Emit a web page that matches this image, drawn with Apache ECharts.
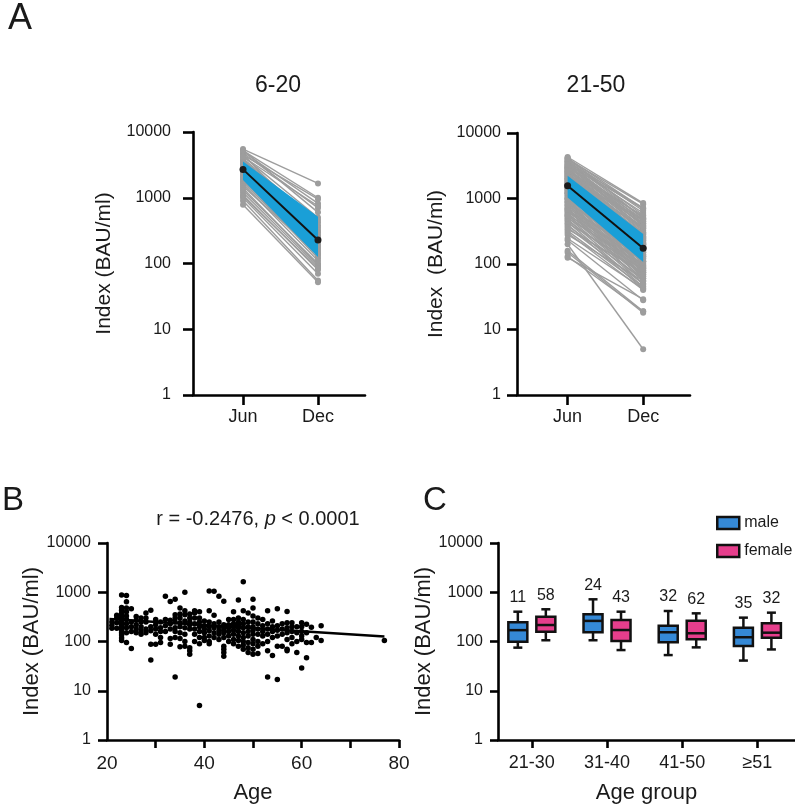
<!DOCTYPE html>
<html><head><meta charset="utf-8">
<script src="https://cdn.jsdelivr.net/npm/echarts@6/dist/echarts.min.js"></script>
<style>html,body{margin:0;padding:0;background:#fff}#c{width:795px;height:811px}</style>
</head><body><div id="c"></div>
<script>
// ---------- DATA ----------
const timeCats = ['Jun', 'Dec'];
const yTicks = [1, 10, 100, 1000, 10000];

// Panel A, 6-20 : [Jun, Dec] per subject
const young = [
 [5500,1650],[5200,1000],[5000,820],[4800,700],[4500,950],[4300,500],[4000,420],[3800,380],
 [3600,460],[3400,300],[3200,350],[3000,270],[2900,230],[2800,320],[2600,200],[2500,260],
 [2400,180],[2300,240],[2200,150],[2100,200],[2000,170],[1900,120],[1800,160],[1700,130],
 [1600,110],[1500,140],[1400,95],[1300,100],[1200,90],[1100,80],[1050,85],[1000,70],
 [900,55],[780,52],[4600,300],[3900,250],[3300,190],[2700,140],[5300,600],[4200,750]
];
const youngMean = [2700, 228];
const youngBandLow = [1870, 126];
const youngBandHigh = [3550, 515];

// Panel A, 21-50
const adult = [
 [4300,850],[4100,700],[4000,820],[3900,650],[3800,560],[3700,500],[3600,720],[3500,450],
 [3400,600],[3300,420],[3200,380],[3150,520],[3100,350],[3000,480],[2900,330],[2850,400],
 [2800,300],[2700,450],[2650,280],[2600,360],[2500,260],[2450,320],[2400,240],[2350,420],
 [2300,230],[2250,290],[2200,210],[2150,350],[2100,200],[2050,260],[2000,190],[1950,300],
 [1900,180],[1850,230],[1800,170],[1750,280],[1700,160],[1650,210],[1600,150],[1550,250],
 [1500,140],[1450,190],[1400,135],[1350,220],[1300,125],[1250,170],[1200,120],[1150,200],
 [1100,110],[1050,150],[1000,105],[980,180],[950,95],[900,130],[870,90],[850,160],
 [800,85],[780,120],[750,80],[720,140],[700,75],[680,100],[650,70],[620,110],
 [600,65],[580,90],[560,60],[540,80],[520,55],[500,95],[480,50],[460,70],
 [440,45],[420,85],[400,42],[380,60],[360,50],[340,75],[320,45],[300,40],
 [280,55],[245,42],[230,28],[160,19],[150,18],[130,19],[125,29],[200,5],
 [3000,250],[2500,180],[2000,130],[1800,110],[1500,90],[1200,75],[1000,60],[4200,500],
 [3600,380],[2900,210],[2200,150],[1700,100],[1300,85],[1100,65],[900,55],[700,48],
 [3300,700],[2600,550],[2000,480],[1600,380],[1400,300],[1200,260],[1000,240],[800,200],
 [650,170],[550,130]
];
const adultMean = [1563, 174];
const adultBandLow = [1040, 107];
const adultBandHigh = [2220, 288];

// Panel B : [age, values]
const scatterByAge = [
 [21,[250,185,215]],
 [22,[340,185,240,300]],
 [23,[880,490,430,380,340,300,270,240,215,190,170,150,135,118,105]],
 [24,[860,640,480,400,330,280,230,190,150,95]],
 [25,[460,250,200,160,72]],
 [26,[320,270,220,180,150]],
 [27,[300,250,200,165,140]],
 [28,[380,300,250,180,150]],
 [29,[430,200,165,88,42]],
 [30,[280,220,180,140,88]],
 [31,[250,190,160,120,95]],
 [32,[830,280,210,160]],
 [33,[650,270,230,180,115,88]],
 [34,[720,350,300,250,190,160,120,19]],
 [35,[480,360,300,240,200,150,115,78]],
 [36,[1000,420,350,260,190,140,100,80]],
 [37,[360,300,250,220,180,75,65,55]],
 [38,[420,380,300,230,180,140,100]],
 [39,[400,300,250,200,160,120,90,5]],
 [40,[260,210,180,150,120,105]],
 [41,[1060,420,250,200,165,130,100,90]],
 [42,[1050,340,230,190,150,120]],
 [43,[830,250,200,165,140,110]],
 [44,[660,220,190,170,150,120,80,70,60,50]],
 [45,[280,220,190,160,130,100]],
 [46,[400,280,230,200,170,140,110,90]],
 [47,[700,300,250,220,190,160,130,105,80]],
 [48,[1640,420,280,230,190,150,120,100,85,70]],
 [49,[380,250,200,160,130,95,75,60]],
 [50,[720,480,330,250,200,170,140,110,90,70,55]],
 [51,[300,230,180,140,100,80,57]],
 [52,[280,210,160,130,90]],
 [53,[420,230,180,140,100,65,19]],
 [54,[260,200,160,120,52]],
 [55,[460,210,170,130,80,17]],
 [56,[230,180,140,80]],
 [57,[405,240,190,150,110,70,65]],
 [58,[240,200,160,120,90]],
 [59,[200,150,100,60]],
 [60,[240,200,160,130,110,29]],
 [61,[225,150,95,47]],
 [62,[195,95]],
 [63,[120]],
 [64,[210,105]],
 [77,[105]]
];
const regAge = [20.5, 77];
const regIndex = [286, 127];
const ageTicks = [30, 40, 50, 60, 70, 80];

// Panel C : [low, q1, median, q3, high]
const ageGroups = ['21-30', '31-40', '41-50', '≥51'];
const maleBox = [[75,99,170,245,403],[106,154,262,357,719],[53,96,154,209,416],[41,81,122,191,305]];
const femaleBox = [[106,158,216,319,451],[67,102,171,273,403],[76,111,147,265,373],[69,119,151,234,385]];
const maleN = [11, 24, 32, 35];
const femaleN = [58, 43, 62, 32];

// ---------- STYLE ----------
const FF = 'Liberation Sans, Arial, sans-serif';
const TXT = '#1a1a1a';
const GREY = '#9d9d9d';
const BLUE_BAND = '#1a9fd7';
const MALE = '#3589d6';
const FEMALE = '#e63e8c';

function logAxis(grid, name, nameSize, nameGap, margin, tickLen) {
  return {
    type: 'log', logBase: 10, min: 1, max: 10000, gridIndex: grid,
    name: name, nameLocation: 'middle', nameGap: nameGap,
    nameTextStyle: {fontFamily: FF, fontSize: nameSize, color: TXT},
    axisLine: {show: true, onZero: false, lineStyle: {color: '#000', width: 2.6}},
    axisTick: {show: true, length: tickLen, lineStyle: {color: '#000', width: 2.6}},
    axisLabel: {fontFamily: FF, fontSize: 16, color: TXT, margin: margin,
      formatter: v => String(Math.round(v))},
    splitLine: {show: false}, minorTick: {show: false}
  };
}
function timeAxis(grid, min, max) {
  return {
    type: 'value', gridIndex: grid, min: min, max: max,
    axisLine: {show: true, onZero: false, lineStyle: {color: '#000', width: 2.6}},
    axisTick: {show: true, length: 10, customValues: [0, 1], lineStyle: {color: '#000', width: 2.6}},
    axisLabel: {fontFamily: FF, fontSize: 18, color: TXT, margin: 13, customValues: [0, 1],
      formatter: v => timeCats[Math.round(v)]},
    splitLine: {show: false}
  };
}

function subjectSeries(data, xi) {
  return {
    type: 'custom', xAxisIndex: xi, yAxisIndex: xi, data: data, silent: true, z: 2,
    renderItem: (params, api) => {
      const p0 = api.coord([0, api.value(0)]);
      const p1 = api.coord([1, api.value(1)]);
      return {type: 'group', children: [
        {type: 'line', shape: {x1: p0[0], y1: p0[1], x2: p1[0], y2: p1[1]}, style: {stroke: GREY, lineWidth: 1.4}},
        {type: 'circle', shape: {cx: p0[0], cy: p0[1], r: 3}, style: {fill: GREY}},
        {type: 'circle', shape: {cx: p1[0], cy: p1[1], r: 3}, style: {fill: GREY}}
      ]};
    }
  };
}
function bandSeries(low, high, xi) {
  return {
    type: 'custom', xAxisIndex: xi, yAxisIndex: xi, data: [[low[0], high[0], low[1], high[1]]], silent: true, z: 3,
    renderItem: (params, api) => {
      const a = api.coord([0, api.value(0)]);
      const b = api.coord([0, api.value(1)]);
      const c = api.coord([1, api.value(3)]);
      const d = api.coord([1, api.value(2)]);
      return {type: 'polygon', shape: {points: [a, b, c, d]}, style: {fill: BLUE_BAND}};
    }
  };
}
function meanSeries(mean, xi) {
  return {
    type: 'line', xAxisIndex: xi, yAxisIndex: xi, z: 4, silent: true,
    data: [[0, mean[0]], [1, mean[1]]],
    symbol: 'circle', symbolSize: 7, itemStyle: {color: '#1b1b1b', opacity: 1},
    lineStyle: {color: '#111', width: 2}
  };
}
function boxSeries(name, boxes, counts, color, offset) {
  return {
    type: 'custom', name: name, xAxisIndex: 3, yAxisIndex: 3, z: 5, silent: true,
    itemStyle: {color: color, borderColor: '#111', borderWidth: 2.5},
    data: boxes.map((b, i) => [i, b[0], b[1], b[2], b[3], b[4], counts[i]]),
    renderItem: (params, api) => {
      const x = api.coord([api.value(0), 1])[0] + offset;
      const y = k => api.coord([api.value(0), api.value(k)])[1];
      const lo = y(1), q1 = y(2), md = y(3), q3 = y(4), hi = y(5);
      const w = 19, cap = 9, lw = 2.5, st = '#111';
      return {type: 'group', children: [
        {type: 'line', shape: {x1: x, y1: hi, x2: x, y2: q3}, style: {stroke: st, lineWidth: lw}},
        {type: 'line', shape: {x1: x, y1: q1, x2: x, y2: lo}, style: {stroke: st, lineWidth: lw}},
        {type: 'line', shape: {x1: x - cap / 2, y1: hi, x2: x + cap / 2, y2: hi}, style: {stroke: st, lineWidth: lw}},
        {type: 'line', shape: {x1: x - cap / 2, y1: lo, x2: x + cap / 2, y2: lo}, style: {stroke: st, lineWidth: lw}},
        {type: 'rect', shape: {x: x - w / 2, y: q3, width: w, height: q1 - q3}, style: {fill: color, stroke: st, lineWidth: lw}},
        {type: 'line', shape: {x1: x - w / 2, y1: md, x2: x + w / 2, y2: md}, style: {stroke: st, lineWidth: lw}},
        {type: 'text', style: {text: String(api.value(6)), x: x, y: hi - 6, align: 'center', verticalAlign: 'bottom',
          fontFamily: FF, fontSize: 16, fill: TXT}}
      ]};
    }
  };
}

const scatterPts = [];
scatterByAge.forEach(r => r[1].forEach(v => scatterPts.push([r[0], v])));

const chart = echarts.init(document.getElementById('c'), null, {renderer: 'canvas'});
chart.setOption({
  animation: false,
  backgroundColor: '#fff',
  textStyle: {fontFamily: FF},
  grid: [
    {left: 193, top: 132, width: 172, height: 263},
    {left: 517, top: 133, width: 173, height: 262},
    {left: 107, top: 543, width: 292, height: 197},
    {left: 498, top: 543, width: 299, height: 197}
  ],
  xAxis: [
    timeAxis(0, -0.667, 1.627),
    timeAxis(1, -0.67, 1.62),
    {type: 'value', gridIndex: 2, min: 20, max: 80, interval: 10,
      name: 'Age', nameLocation: 'middle', nameGap: 42,
      nameTextStyle: {fontFamily: FF, fontSize: 22, color: TXT},
      axisLine: {onZero: false, lineStyle: {color: '#000', width: 2.6}},
      axisTick: {length: 8, customValues: ageTicks, lineStyle: {color: '#000', width: 2.6}},
      axisLabel: {fontFamily: FF, fontSize: 19, color: TXT, margin: 14,
        formatter: v => (v % 20 === 0 ? String(v) : '')},
      splitLine: {show: false}},
    {type: 'value', gridIndex: 3, min: -0.45, max: 3.5,
      name: 'Age group', nameLocation: 'middle', nameGap: 42,
      nameTextStyle: {fontFamily: FF, fontSize: 22, color: TXT},
      axisLine: {onZero: false, lineStyle: {color: '#000', width: 2.6}},
      axisTick: {length: 8, customValues: [0, 1, 2, 3], lineStyle: {color: '#000', width: 2.6}},
      axisLabel: {fontFamily: FF, fontSize: 18, color: TXT, margin: 14, customValues: [0, 1, 2, 3],
        formatter: v => ageGroups[Math.round(v)]},
      splitLine: {show: false}}
  ],
  yAxis: [
    logAxis(0, 'Index (BAU/ml)', 21, 78, 22, 10),
    logAxis(1, 'Index  (BAU/ml)', 21, 70, 16, 10),
    logAxis(2, 'Index (BAU/ml)', 22, 64, 16, 9),
    logAxis(3, 'Index (BAU/ml)', 22, 56, 15, 8)
  ],
  legend: {
    orient: 'vertical', left: 711, top: 510, itemWidth: 22, itemHeight: 12, itemGap: 12,
    selectedMode: false,
    textStyle: {fontFamily: FF, fontSize: 16, color: TXT},
    data: [
      {name: 'male', icon: 'rect', itemStyle: {color: MALE, borderColor: '#111', borderWidth: 2.5}},
      {name: 'female', icon: 'rect', itemStyle: {color: FEMALE, borderColor: '#111', borderWidth: 2.5}}
    ]
  },
  graphic: [
    {type: 'text', left: 8, top: 1, style: {text: 'A', fontFamily: FF, fontSize: 36, fill: TXT}},
    {type: 'text', left: 2, top: 484, style: {text: 'B', fontFamily: FF, fontSize: 33, fill: TXT}},
    {type: 'text', left: 423, top: 484, style: {text: 'C', fontFamily: FF, fontSize: 33, fill: TXT}},
    {type: 'text', style: {text: '6-20', x: 278, y: 86, align: 'center', verticalAlign: 'middle', fontFamily: FF, fontSize: 23, fill: TXT}},
    {type: 'text', style: {text: '21-50', x: 596, y: 86, align: 'center', verticalAlign: 'middle', fontFamily: FF, fontSize: 23, fill: TXT}},
    {type: 'text', style: {
      text: '{n|r = -0.2476, }{i|p}{n| < 0.0001}', x: 258, y: 519, align: 'center', verticalAlign: 'middle',
      rich: {n: {fontFamily: FF, fontSize: 20, fill: TXT, color: TXT}, i: {fontFamily: FF, fontSize: 20, fontStyle: 'italic', fill: TXT, color: TXT}}}}
  ],
  series: [
    subjectSeries(young, 0), bandSeries(youngBandLow, youngBandHigh, 0), meanSeries(youngMean, 0),
    subjectSeries(adult, 1), bandSeries(adultBandLow, adultBandHigh, 1), meanSeries(adultMean, 1),
    {type: 'scatter', xAxisIndex: 2, yAxisIndex: 2, data: scatterPts, symbolSize: 5.5,
      itemStyle: {color: '#000', opacity: 1}, silent: true, z: 3},
    {type: 'line', xAxisIndex: 2, yAxisIndex: 2, data: regAge.map((a, i) => [a, regIndex[i]]),
      showSymbol: false, lineStyle: {color: '#000', width: 2.5}, silent: true, z: 4},
    boxSeries('male', maleBox, maleN, MALE, -14),
    boxSeries('female', femaleBox, femaleN, FEMALE, 14)
  ]
});
</script></body></html>
